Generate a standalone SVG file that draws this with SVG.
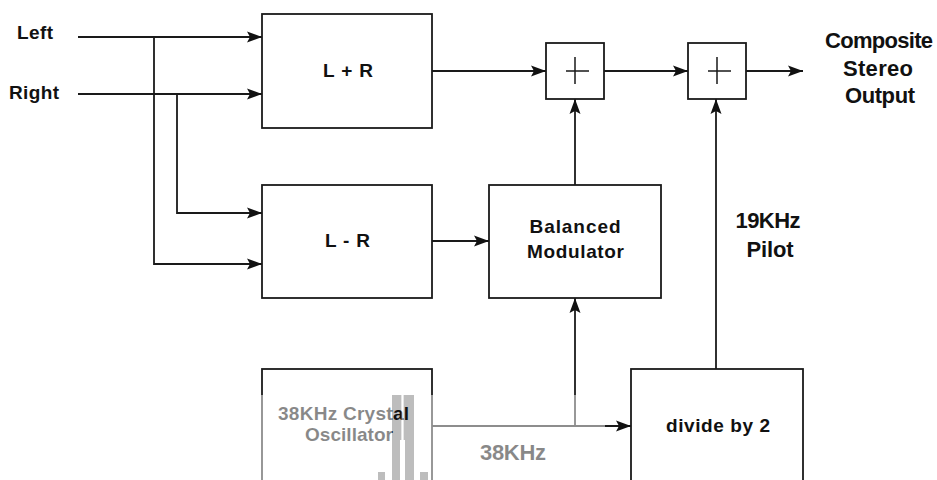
<svg xmlns="http://www.w3.org/2000/svg" width="937" height="480" viewBox="0 0 937 480">
  <style>
    .box { fill: none; stroke: #1a1a1a; stroke-width: 1.8; }
    .wire { fill: none; stroke: #1a1a1a; stroke-width: 1.8; }
    .arr { marker-end: url(#ah); }
    .plus { fill: none; stroke: #1a1a1a; stroke-width: 1.5; }
    text { font-family: "Liberation Sans", Arial, sans-serif; font-weight: bold; fill: #111; }
    .t19 { font-size: 19px; }
    .t21 { font-size: 22px; }
    .t20 { font-size: 19px; }
    .mid { text-anchor: middle; }
  </style>
  <defs>
    <marker id="ah" markerUnits="userSpaceOnUse" markerWidth="16" markerHeight="12" refX="15" refY="6" orient="auto">
      <path d="M0,0.5 L15,6 L0,11.5 L3,6 Z" fill="#111"/>
    </marker>
  </defs>
  <rect x="0" y="0" width="937" height="480" fill="#ffffff"/>

  <!-- spike graphic behind content -->
  <g id="spike" fill="#bdbdbd">
    <path d="M392,395 H401.5 V440 H400 V480 H392 Z"/>
    <path d="M403.5,395 H414 V480 H405 V440 H403.5 Z"/>
    <rect x="378" y="472" width="7" height="8"/>
    <rect x="420" y="472" width="8" height="8"/>
  </g>

  <g id="connectors">
    <path class="wire arr" d="M78,37 H262"/>
    <path class="wire arr" d="M78,94 H262"/>
    <path class="wire arr" d="M154,37 V264 H262"/>
    <path class="wire arr" d="M177,93 V213 H262"/>
    <path class="wire arr" d="M432,71 H546"/>
    <path class="wire arr" d="M432,241 H489"/>
    <path class="wire arr" d="M575,185 V99"/>
    <path class="wire arr" d="M604,71 H688"/>
    <path class="wire arr" d="M746,71 H803"/>
    <path class="wire arr" d="M716,369 V99"/>
    <path class="wire arr" d="M432,426 H631"/>
    <path class="wire arr" d="M575,426 V298"/>
  </g>

  <g id="left-label"><text class="t19" x="17" y="39" textLength="36" lengthAdjust="spacing">Left</text></g>
  <g id="right-label"><text class="t19" x="9" y="99" textLength="50" lengthAdjust="spacing">Right</text></g>

  <g id="lplusr">
    <rect class="box" x="262" y="14" width="170" height="114"/>
    <text class="t19 mid" x="348" y="77" textLength="50" lengthAdjust="spacing">L + R</text>
  </g>
  <g id="lminusr">
    <rect class="box" x="262" y="185" width="170" height="113"/>
    <text class="t19 mid" x="347.5" y="247" textLength="45" lengthAdjust="spacing">L - R</text>
  </g>
  <g id="balanced-modulator">
    <rect class="box" x="489" y="185" width="172" height="113"/>
    <text class="t19 mid" x="575" y="233" textLength="91" lengthAdjust="spacing">Balanced</text>
    <text class="t19 mid" x="575.5" y="258" textLength="97" lengthAdjust="spacing">Modulator</text>
  </g>
  <g id="sum1">
    <rect class="box" x="546" y="43" width="58" height="56"/>
    <path class="plus" d="M566,71 H589 M575,57 V84"/>
  </g>
  <g id="sum2">
    <rect class="box" x="688" y="43" width="58" height="56"/>
    <path class="plus" d="M708,71 H731 M717,57 V84"/>
  </g>
  <g id="output-label">
    <text class="t21 mid" x="879" y="48" textLength="108" lengthAdjust="spacing">Composite</text>
    <text class="t21 mid" x="878" y="76" textLength="70" lengthAdjust="spacing">Stereo</text>
    <text class="t21 mid" x="880" y="103" textLength="70" lengthAdjust="spacing">Output</text>
  </g>
  <g id="pilot-label">
    <text class="t21 mid" x="768" y="228" textLength="65" lengthAdjust="spacing">19KHz</text>
    <text class="t21 mid" x="770" y="257" textLength="47" lengthAdjust="spacing">Pilot</text>
  </g>
  <g id="crystal-oscillator">
    <rect class="box" x="262" y="369" width="170" height="130"/>
    <text class="t20 mid" x="343.5" y="420" textLength="131" lengthAdjust="spacing">38KHz Crystal</text>
    <text class="t20 mid" x="349" y="441" textLength="88" lengthAdjust="spacing">Oscillator</text>
  </g>
  <g id="freq-label">
    <text class="t21 mid" x="513" y="460" textLength="66" lengthAdjust="spacing">38KHz</text>
  </g>
  <g id="divide-by-2">
    <rect class="box" x="631" y="369" width="172" height="130"/>
    <text class="t19 mid" x="718" y="432" textLength="104" lengthAdjust="spacing">divide by 2</text>
  </g>

  <!-- faded overlay (with spike area left unfaded) -->
  <path fill="#ffffff" fill-opacity="0.5" fill-rule="evenodd"
        d="M250,395 H605 V480 H250 Z
           M392,395 H401.5 V440 H400 V480 H392 Z
           M403.5,395 H414 V480 H405 V440 H403.5 Z
           M378,472 H385 V480 H378 Z
           M420,472 H428 V480 H420 Z"/>
</svg>
